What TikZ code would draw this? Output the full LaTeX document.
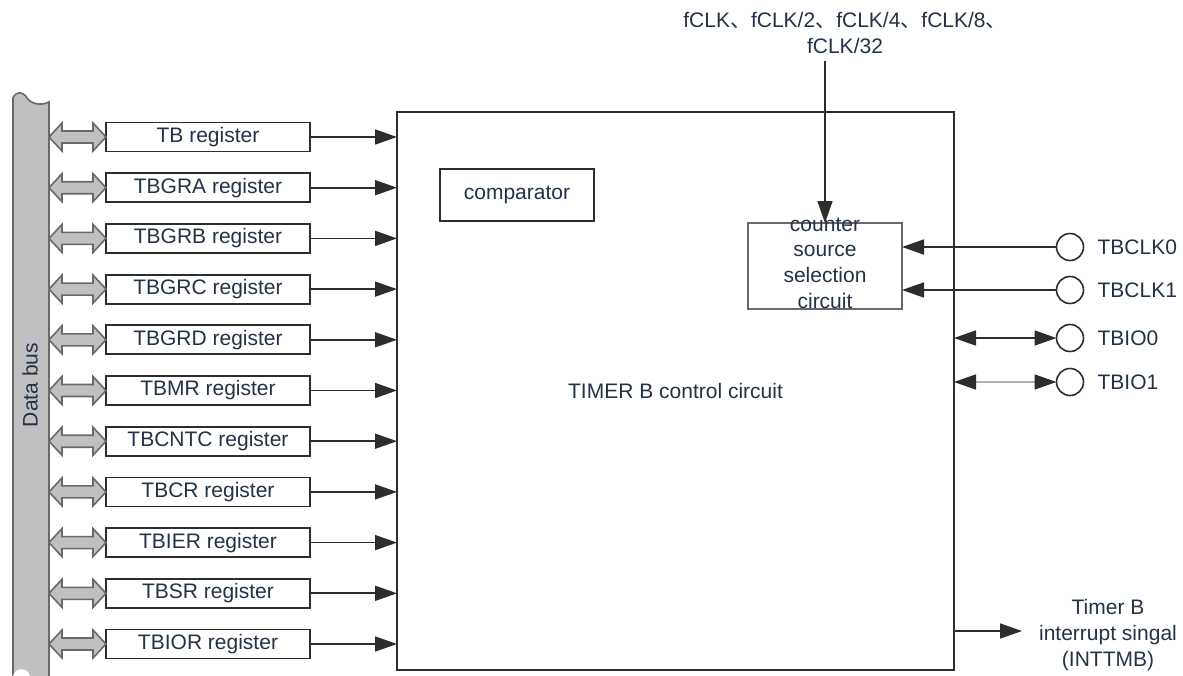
\documentclass[tikz,border=0pt]{standalone}
\usepackage{fontspec}
\setmainfont{Liberation Sans}
\newfontfamily\cjk{Noto Sans CJK SC}
\usepackage{xcolor}
\usetikzlibrary{arrows.meta,positioning}
\definecolor{txtblue}{RGB}{35,50,70}
\definecolor{busgray}{RGB}{192,192,192}
\definecolor{edgegray}{RGB}{105,105,105}
\definecolor{linegray}{RGB}{45,45,45}

\begin{document}
\begin{tikzpicture}[
  x=0.5pt, y=-0.5pt,
  font=\fontsize{10.5}{12.8}\selectfont,
  every node/.style={text=txtblue},
  node distance=10.85pt,
  regbox/.style={draw=linegray, line width=0.9pt, minimum width=102pt, minimum height=14.5pt, inner sep=0pt, outer sep=0pt},
  ctrlbox/.style={draw=linegray, line width=1pt, minimum width=278.5pt, minimum height=279pt, outer sep=0pt},
  plainbox/.style={draw=linegray, line width=0.9pt, outer sep=0pt},
  pinring/.style={circle, draw=linegray, line width=0.8pt, minimum size=13.5pt, inner sep=0pt, outer sep=0pt},
  arrow/.style={-{Triangle[length=11pt,width=7.5pt]}, line width=0.85pt, draw=linegray},
  dblarrow/.style={{Triangle[length=11pt,width=7.5pt]}-{Triangle[length=11pt,width=7.5pt]}, line width=0.85pt, draw=linegray},
  busarr/.style={draw=edgegray, fill=busgray, line width=0.8pt, line join=miter}
]
\useasboundingbox (0,0) rectangle (1183,675);

% data bus
\draw[busarr] (13,98) .. controls (16,91) and (23,91) .. (27,98) .. controls (31,104) and (41,106) .. (49,102)
  -- (49,680) -- (13,680) -- cycle;
\fill[white] (13,676) .. controls (15,667) and (28,667) .. (30,676) -- cycle;
\coordinate (busedge) at (49,137);
\node[rotate=90] (buslbl) at (30,385) {Data bus};

% registers
\node[regbox] (tb) at (208,137) {TB register};
\node[regbox, below=of tb] (tbgra) {TBGRA register};
\node[regbox, below=of tbgra] (tbgrb) {TBGRB register};
\node[regbox, below=of tbgrb] (tbgrc) {TBGRC register};
\node[regbox, below=of tbgrc] (tbgrd) {TBGRD register};
\node[regbox, below=of tbgrd] (tbmr) {TBMR register};
\node[regbox, below=of tbmr] (tbcntc) {TBCNTC register};
\node[regbox, below=of tbcntc] (tbcr) {TBCR register};
\node[regbox, below=of tbcr] (tbier) {TBIER register};
\node[regbox, below=of tbier] (tbsr) {TBSR register};
\node[regbox, below=of tbsr] (tbior) {TBIOR register};

% control circuit
\node[ctrlbox] (ctrl) at (675.5,391) {TIMER B control circuit};
\node[plainbox, minimum width=77pt, minimum height=26pt] (cmp) at (517,195) {comparator};
\node[plainbox, draw=edgegray, minimum width=77pt, minimum height=43pt] (cnt) at (825,266) {};
\node[align=center, inner sep=0pt] (cntlbl) at ([yshift=1.5pt]cnt.center) {counter\\source\\selection\\circuit};

\node[align=center] (fclk) at (845,33) {fCLK{\cjk 、}fCLK/2{\cjk 、}fCLK/4{\cjk 、}fCLK/8{\cjk 、}\\fCLK/32};

% pins
\node[pinring, label={[label distance=3.5pt]right:TBCLK0}] (clk0) at (1070,247) {};
\node[pinring, label={[label distance=3.5pt]right:TBCLK1}] (clk1) at (1070,290) {};
\node[pinring, label={[label distance=3.5pt]right:TBIO0}] (io0) at (1070,338) {};
\node[pinring, label={[label distance=3.5pt]right:TBIO1}] (io1) at (1070,382) {};

\node[align=center] (intr) at (1108,635) {Timer B\\interrupt singal\\(INTTMB)};
\coordinate (intrend) at (1022,631);

% connectors
\foreach \r in {tb,tbgra,tbgrb,tbgrc,tbgrd,tbmr,tbcntc,tbcr,tbier,tbsr,tbior} {
  \draw[busarr] (busedge |- \r.west) -- ++(13,-14) -- ++(0,8) -- ++(31,0) -- ++(0,-8) -- (\r.west)
    -- ++(-13,14) -- ++(0,-8) -- ++(-31,0) -- ++(0,8) -- cycle;
  \draw[arrow] (\r.east) -- (\r.east -| ctrl.west);
}
\draw[arrow] (fclk.south -| cnt.north) -- (cnt.north);
\draw[arrow] (clk0.west) -- (clk0.west -| cnt.east);
\draw[arrow] (clk1.west) -- (clk1.west -| cnt.east);
\draw[dblarrow] (ctrl.east |- io0) -- (io0.west);
\draw[dblarrow, draw=gray!60, {Triangle[length=11pt,width=7.5pt,color=linegray]}-{Triangle[length=11pt,width=7.5pt,color=linegray]}] (ctrl.east |- io1) -- (io1.west);
\draw[arrow] (ctrl.east |- intrend) -- (intrend);
\end{tikzpicture}
\end{document}
